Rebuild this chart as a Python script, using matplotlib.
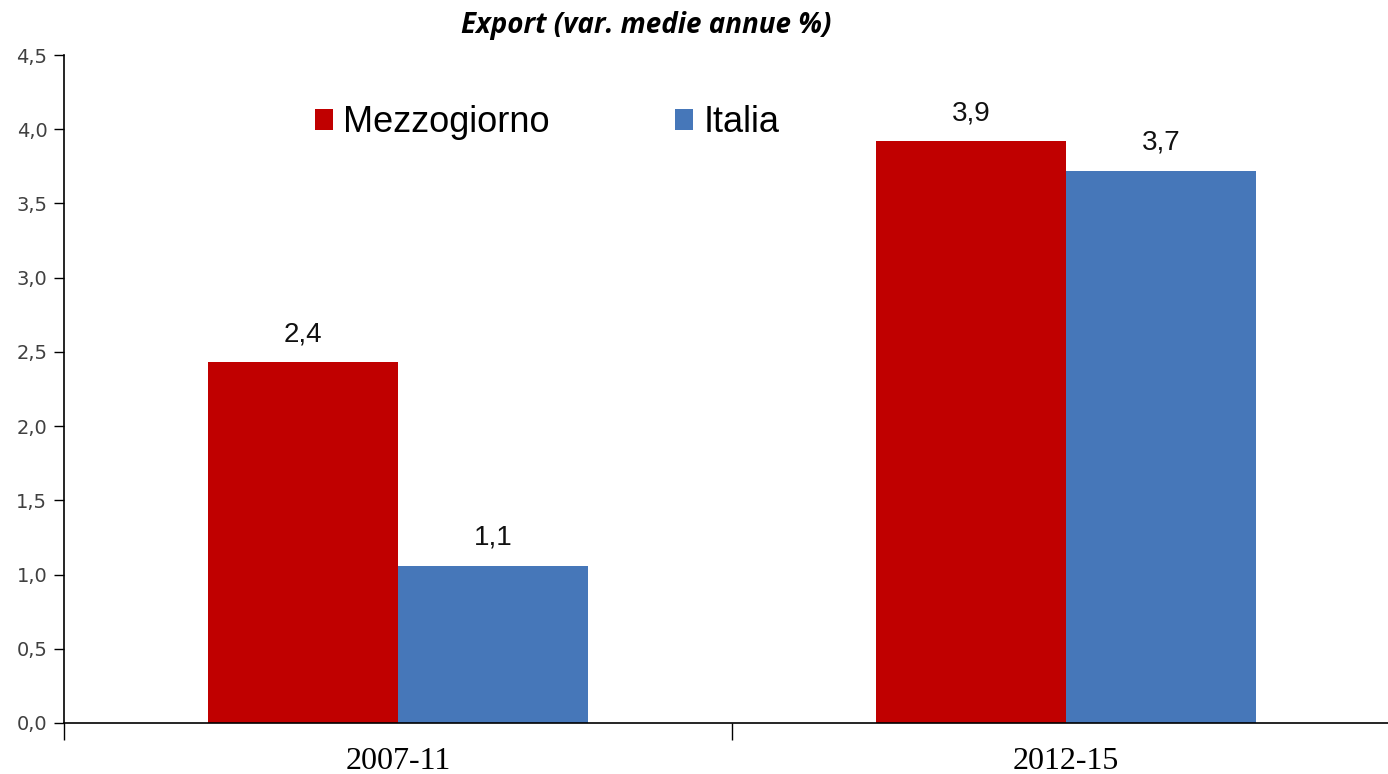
import matplotlib.pyplot as plt
from matplotlib.ticker import FixedLocator, FuncFormatter
import numpy as np

periods = ["2007-11", "2012-15"]
mezzogiorno = [2.43, 3.92]
italia = [1.06, 3.72]
labels_mezz = ["2,4", "3,9"]
labels_ita = ["1,1", "3,7"]

red = "#C00000"
blue = "#4677B9"

fig = plt.figure(figsize=(13.88, 7.74), dpi=100)
ax = fig.add_axes([64 / 1388, 1 - 723 / 774, 1336 / 1388, (723 - 55) / 774])

x = np.arange(len(periods))
w = 0.285
b1 = ax.bar(x - w / 2, mezzogiorno, w, color=red, label="Mezzogiorno")
b2 = ax.bar(x + w / 2, italia, w, color=blue, label="Italia")

for bars, labs in [(b1, labels_mezz), (b2, labels_ita)]:
    for r, lab in zip(bars, labs):
        ax.annotate(lab, (r.get_x() + r.get_width() / 2, r.get_height()),
                    xytext=(0, 15), textcoords="offset pixels",
                    ha="center", va="bottom", fontsize=20,
                    family="Liberation Sans", color="#111111")

ax.set_xlim(-0.5, 1.5)
ax.set_ylim(0, 4.5)
ax.set_yticks(np.arange(0, 4.51, 0.5))
ax.yaxis.set_major_formatter(FuncFormatter(lambda v, p: f"{v:.1f}".replace(".", ",")))
ax.tick_params(axis="y", direction="out", length=7, width=1, labelsize=14,
               labelcolor="#404040", pad=5)

ax.set_xticks(x)
ax.set_xticklabels(periods, fontsize=23, family="Liberation Serif")
ax.tick_params(axis="x", which="major", length=0, pad=17)
ax.xaxis.set_minor_locator(FixedLocator([-0.5, 0.5, 1.5]))
ax.tick_params(axis="x", which="minor", direction="out", length=12, width=1)

for s in ["top", "right"]:
    ax.spines[s].set_visible(False)
for s in ["left", "bottom"]:
    ax.spines[s].set_linewidth(1.2)

ax.legend(loc="center left", bbox_to_anchor=((315 - 64) / 1336, (723 - 123) / 668),
          ncol=2, frameon=False, handlelength=0.5, handleheight=0.5,
          handletextpad=0.28, columnspacing=3.47, borderpad=0, borderaxespad=0,
          prop={"family": "Liberation Sans", "size": 26})

fig.text(646 / 1388, 1 - 26 / 774, "Export (var. medie annue %)",
         ha="center", va="center", fontsize=20, fontweight="bold",
         style="italic", family="Open Sans")

fig.savefig("out.png", dpi=100)
